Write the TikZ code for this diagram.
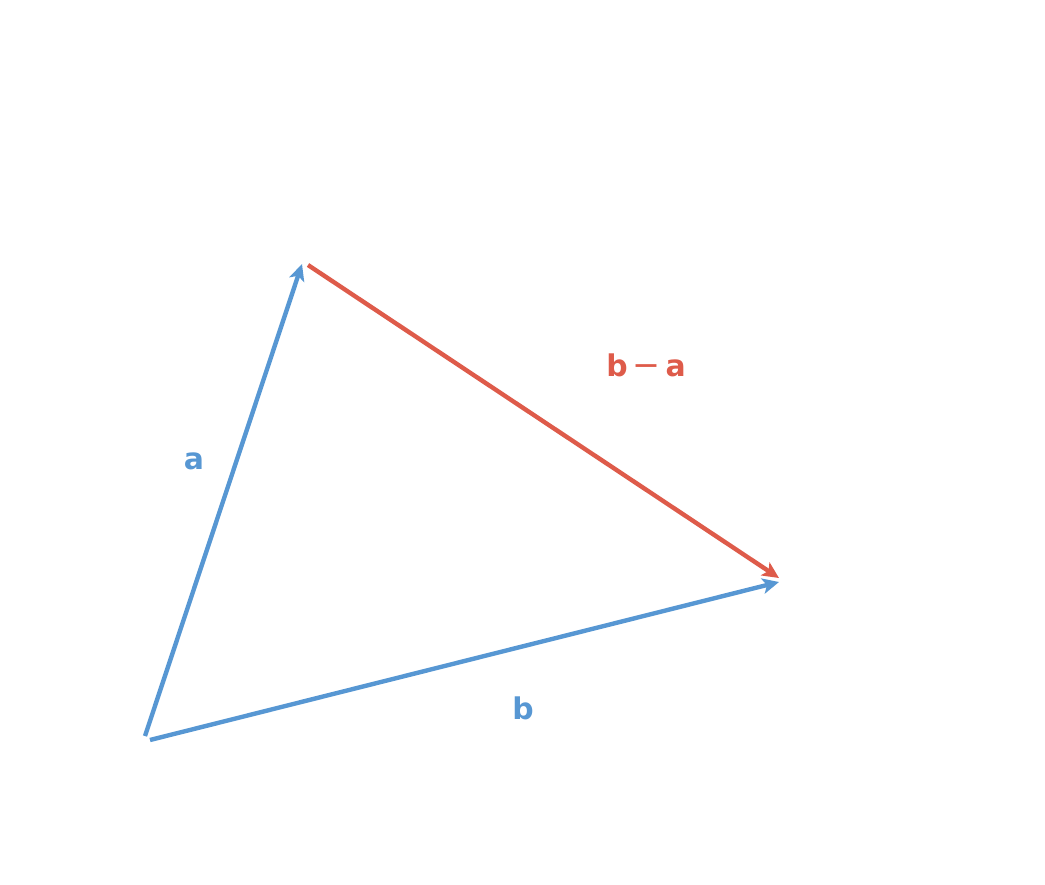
\documentclass[tikz,border=0pt]{standalone}
\usepackage{fontspec}
\setmainfont{DejaVu Sans}
\usetikzlibrary{arrows.meta, positioning}
\definecolor{vecblue}{HTML}{5797D3}
\definecolor{vecred}{HTML}{DE5B4A}

\begin{document}
\begin{tikzpicture}[x=0.02cm,y=-0.02cm,
          > = {Stealth[length=3.3mm,width=3.1mm,inset=0.8mm]}, % arrow head style
          line width = 2.5pt, % line style
          vec/.style = {->, line cap=butt},
          lab/.style = {font=\bfseries\fontsize{17}{20}\selectfont}
      ]
  \useasboundingbox (0,0) rectangle (1045,885);

  % Draw the points.
  \coordinate (oa) at (145, 736);
  \coordinate (ob) at (150, 740);
  \coordinate (ta) at (302, 264);
  \coordinate (sr) at (308, 265);
  \coordinate (tb) at (779, 582);
  \coordinate (tr) at (779, 578);

  % Labels
  \node[lab, text=vecblue] (la) at (194, 461) {a};
  \node[lab, text=vecblue] (lb) at (523, 708) {b};
  \node[lab, text=vecred] (lr) at (646, 365) {b\hspace{0.3ex}{\mdseries\fontsize{19}{20}\selectfont −}\hspace{0.3ex}a};

  % Connect points with vectors
  \draw[vec, vecblue] (oa) -- (ta);
  \draw[vec, vecblue] (ob) -- (tb);
  \draw[vec, vecred] (sr) -- (tr);
\end{tikzpicture}
\end{document}
